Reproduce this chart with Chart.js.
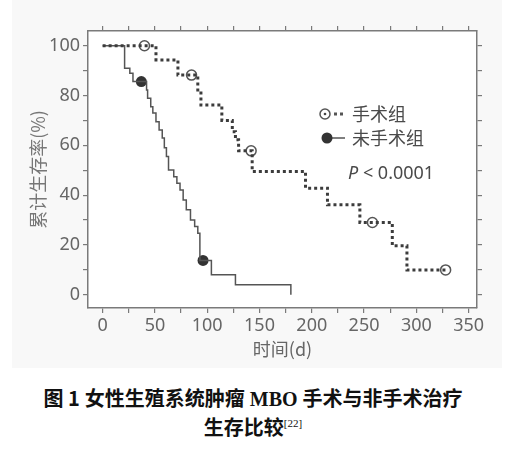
<!DOCTYPE html>
<html>
<head>
<meta charset="utf-8">
<script src="https://cdn.jsdelivr.net/npm/chart.js@4.4.0/dist/chart.umd.min.js"></script>
<style>
  html, body { margin: 0; padding: 0; background: #fff; }
  #page { position: relative; width: 526px; height: 450px; overflow: hidden; }
  #shade { position: absolute; left: 12px; top: 0; width: 490px; height: 368px; background: #f8f8f8; }
  #wrap { position: absolute; left: 0; top: 0; width: 526px; height: 380px; }
  .cap { position: absolute; left: -10px; width: 526px; text-align: center; color: #111;
         font-family: "Liberation Serif", "Noto Sans CJK SC", serif; font-weight: bold; font-size: 20px; }
  .cap sup { font-size: 11px; font-weight: normal; }
</style>
</head>
<body>
<div id="page">
  <div id="shade"></div>
  <div id="wrap"><canvas id="km"></canvas></div>
  <div class="cap" style="top:383px;"><span style="font-family:'Noto Sans CJK SC';">图 1</span> 女性生殖系统肿瘤 MBO 手术与非手术治疗</div>
  <div class="cap" style="top:412px;">生存比较<sup>[22]</sup></div>
</div>
<script>
// 手术组 (点线) の生存曲線
const opTimes = [0, 51, 72, 91, 94, 114, 124, 127, 130, 143, 194, 215, 246, 277, 291, 328];
const opSurv  = [100, 94.3, 88.2, 82.2, 76.2, 70.0, 65.5, 62.2, 57.8, 49.5, 42.8, 36.1, 29.0, 19.7, 10.0, 10.0];
const opCensorTimes = [40, 85, 142, 258, 328];
const opCensorSurv  = [100, 88.2, 57.8, 29.0, 10.0];

// 未手术组 (実線) の生存曲線
const nonTimes = [0, 21, 26, 29, 42, 43, 46, 48, 51, 54, 57, 59, 61, 63, 68, 71, 74, 77, 80, 84, 88, 91, 93, 104, 127, 180];
const nonSurv  = [100, 90.9, 88.9, 85.6, 82.2, 78.9, 75.5, 73.0, 69.5, 66.2, 62.9, 59.0, 55.5, 50.1, 47.4, 44.8, 42.1, 38.1, 34.1, 30.0, 27.4, 24.7, 13.8, 8.0, 4.0, 0];
const nonCensorTimes = [37, 96];
const nonCensorSurv  = [85.6, 13.8];

// 軸の目盛
const xTickValues = [0, 25, 50, 75, 100, 125, 150, 175, 200, 225, 250, 275, 300, 325, 350];
const yTickValues = [0, 10, 20, 30, 40, 50, 60, 70, 80, 90, 100];
const xLabelStep = 50;
const yLabelStep = 20;

const legendLabels = ['手术组', '未手术组'];
const pValueText = '< 0.0001';

const toPoints = (xs, ys) => xs.map((x, i) => ({ x: x, y: ys[i] }));

const X_MIN = -14, X_MAX = 358, Y_MIN = -5.3, Y_MAX = 105.9;
const AXIS_COLOR = '#7a7a7a';
const TEXT_COLOR = '#666';
const FONT = '"Noto Sans", "Noto Sans CJK SC", sans-serif';

Chart.defaults.font.family = FONT;
Chart.defaults.color = TEXT_COLOR;

// プロット領域を白で塗る
const whiteArea = {
  id: 'whiteArea',
  beforeDraw(chart) {
    const { ctx, chartArea: a } = chart;
    ctx.save();
    ctx.fillStyle = '#fff';
    ctx.fillRect(a.left, a.top, a.right - a.left, a.bottom - a.top);
    ctx.restore();
  }
};

// 凡例と P 値をプロット内に描く
const innerLegend = {
  id: 'innerLegend',
  afterDraw(chart) {
    const ctx = chart.ctx;
    ctx.save();
    ctx.font = '18px "Noto Sans CJK SC", sans-serif';
    ctx.textBaseline = 'middle';
    // 手术组
    ctx.fillStyle = '#555';
    [334, 340].forEach(x => ctx.fillRect(x, 112.5, 3, 3));
    ctx.beginPath();
    ctx.arc(325, 114, 5, 0, Math.PI * 2);
    ctx.fillStyle = '#fff';
    ctx.fill();
    ctx.lineWidth = 1.5;
    ctx.strokeStyle = '#555';
    ctx.stroke();
    ctx.beginPath();
    ctx.arc(325, 114, 1.3, 0, Math.PI * 2);
    ctx.fillStyle = '#444';
    ctx.fill();
    ctx.fillStyle = '#4a4a4a';
    ctx.fillText(legendLabels[0], 352, 114);
    // 未手术组
    ctx.beginPath();
    ctx.moveTo(327, 138);
    ctx.lineTo(345, 138);
    ctx.lineWidth = 1.5;
    ctx.strokeStyle = '#555';
    ctx.stroke();
    ctx.beginPath();
    ctx.arc(327, 138, 5.5, 0, Math.PI * 2);
    ctx.fillStyle = '#333';
    ctx.fill();
    ctx.fillStyle = '#4a4a4a';
    ctx.fillText(legendLabels[1], 352, 138);
    // P 値
    ctx.font = 'italic 18px "Noto Sans", sans-serif';
    ctx.fillText('P', 348, 174);
    const pw = ctx.measureText('P ').width;
    ctx.font = '18px "Noto Sans", sans-serif';
    ctx.fillText(pValueText, 348 + pw, 174);
    ctx.restore();
  }
};

const gridOpts = {
  display: true,
  drawOnChartArea: false,
  drawTicks: true,
  tickLength: 5,
  color: AXIS_COLOR,
  lineWidth: 1.2
};
const borderOpts = { display: true, color: AXIS_COLOR, width: 1.5 };

new Chart(document.getElementById('km'), {
  type: 'line',
  data: {
    datasets: [
      {
        label: legendLabels[0],
        data: toPoints(opTimes, opSurv),
        stepped: 'before',
        borderColor: '#3c3c3c',
        borderWidth: 3,
        borderDash: [3, 3],
        pointRadius: 0,
        fill: false
      },
      {
        label: legendLabels[1],
        data: toPoints(nonTimes, nonSurv),
        stepped: 'before',
        borderColor: '#555',
        borderWidth: 1.5,
        pointRadius: 0,
        fill: false
      },
      {
        type: 'scatter',
        data: toPoints(opCensorTimes, opCensorSurv),
        pointRadius: 5,
        pointBorderWidth: 1.5,
        pointBorderColor: '#555',
        pointBackgroundColor: '#fff'
      },
      {
        type: 'scatter',
        data: toPoints(opCensorTimes, opCensorSurv),
        pointRadius: 1.3,
        pointBorderWidth: 0,
        pointBackgroundColor: '#444'
      },
      {
        type: 'scatter',
        data: toPoints(nonCensorTimes, nonCensorSurv),
        pointRadius: 5.5,
        pointBorderWidth: 0,
        pointBackgroundColor: '#333'
      }
    ]
  },
  options: {
    responsive: true,
    maintainAspectRatio: false,
    animation: false,
    layout: { padding: 0 },
    plugins: { legend: { display: false }, tooltip: { enabled: false } },
    scales: {
      x: {
        type: 'linear', position: 'bottom', min: X_MIN, max: X_MAX,
        afterBuildTicks: s => { s.ticks = xTickValues.map(v => ({ value: v })); },
        afterFit: s => { s.height = 72; },
        ticks: {
          autoSkip: false, maxRotation: 0, padding: 2,
          font: { size: 18 }, color: TEXT_COLOR,
          callback: v => (v % xLabelStep === 0 ? String(v) : '')
        },
        grid: gridOpts, border: borderOpts,
        title: { display: true, text: '时间(d)', color: TEXT_COLOR,
                 font: { size: 18, family: '"Noto Sans CJK SC", sans-serif' }, padding: { top: 0, bottom: 20 } }
      },
      x2: {
        type: 'linear', position: 'top', min: X_MIN, max: X_MAX,
        afterBuildTicks: s => { s.ticks = xTickValues.map(v => ({ value: v })); },
        afterFit: s => { s.height = 31; },
        ticks: { display: false },
        grid: gridOpts, border: borderOpts
      },
      y: {
        type: 'linear', position: 'left', min: Y_MIN, max: Y_MAX,
        afterBuildTicks: s => { s.ticks = yTickValues.map(v => ({ value: v })); },
        afterFit: s => { s.width = 88; },
        ticks: {
          autoSkip: false, padding: 3,
          font: { size: 18 }, color: TEXT_COLOR,
          callback: v => (v % yLabelStep === 0 ? String(v) : '')
        },
        grid: gridOpts, border: borderOpts,
        title: { display: true, text: '累计生存率(%)', color: '#777',
                 font: { size: 18, family: '"Noto Sans CJK SC", sans-serif' }, padding: { top: 27, bottom: 0 } }
      },
      y2: {
        type: 'linear', position: 'right', min: Y_MIN, max: Y_MAX,
        afterBuildTicks: s => { s.ticks = yTickValues.map(v => ({ value: v })); },
        afterFit: s => { s.width = 49; },
        ticks: { display: false },
        grid: gridOpts, border: borderOpts
      }
    }
  },
  plugins: [whiteArea, innerLegend]
});
</script>
</body>
</html>
